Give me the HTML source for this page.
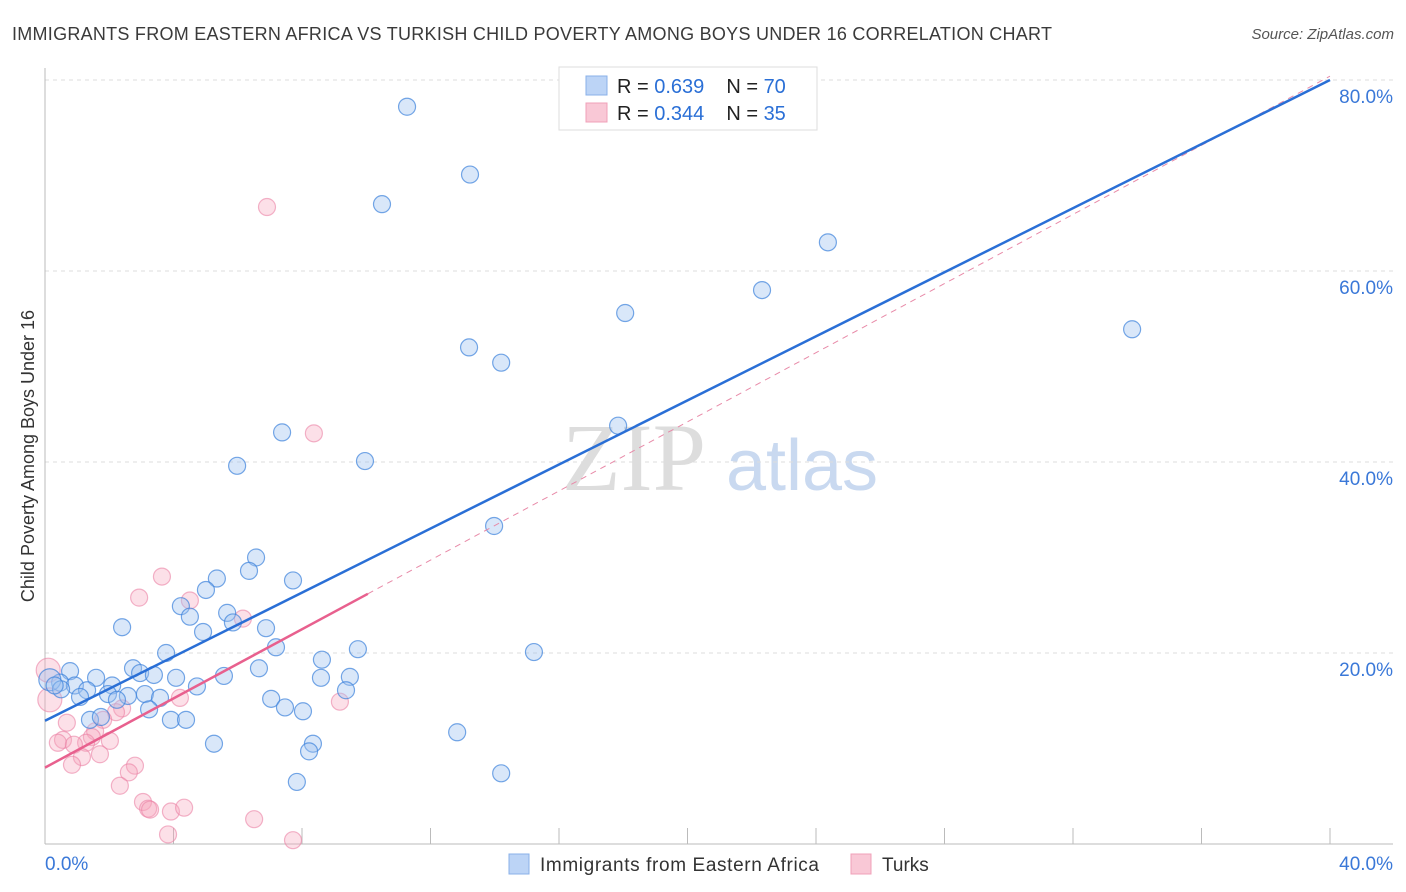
<!DOCTYPE html>
<html><head><meta charset="utf-8"><style>
body{margin:0;background:#fff;font-family:"Liberation Sans",sans-serif;}
svg{display:block}
</style></head><body>
<svg id="c" width="1406" height="892">
<text x="12" y="40" font-size="18" fill="#3a3a3a" textLength="1040">IMMIGRANTS FROM EASTERN AFRICA VS TURKISH CHILD POVERTY AMONG BOYS UNDER 16 CORRELATION CHART</text>
<text x="1394" y="39" font-size="15" fill="#555" font-style="italic" text-anchor="end">Source: ZipAtlas.com</text>
<text transform="translate(34,456) rotate(-90)" font-size="18" fill="#333" text-anchor="middle">Child Poverty Among Boys Under 16</text>
<g><text x="634" y="490" font-size="96" font-family="Liberation Serif,serif" fill="#ddd" text-anchor="middle">ZIP</text><text x="802" y="490" font-size="72" fill="#c9d9f0" text-anchor="middle">atlas</text></g>
<g id="grid"></g><g id="marks"></g>
<g>
<rect x="559" y="67" width="258" height="63" fill="#fff" stroke="#ddd"/>
<rect x="586" y="76" width="21" height="19" fill="#bcd4f6" stroke="#8ab0e8"/>
<rect x="586" y="103" width="21" height="19" fill="#f9c8d6" stroke="#f0a0b8"/>
<text x="617" y="93" font-size="20" fill="#222">R = <tspan fill="#2a6fd6">0.639</tspan><tspan dx="22">N = </tspan><tspan fill="#2a6fd6">70</tspan></text>
<text x="617" y="120" font-size="20" fill="#222">R = <tspan fill="#2a6fd6">0.344</tspan><tspan dx="22">N = </tspan><tspan fill="#2a6fd6">35</tspan></text>
</g>
<g>
<rect x="509" y="854" width="20" height="20" fill="#bcd4f6" stroke="#8ab0e8"/>
<text x="540" y="871" font-size="19" fill="#333" textLength="279">Immigrants from Eastern Africa</text>
<rect x="851" y="854" width="20" height="20" fill="#f9c8d6" stroke="#f0a0b8"/>
<text x="882" y="871" font-size="19" fill="#333">Turks</text>
</g>
</svg>
<script>
const yTicks=[20,40,60,80];
const xTickVals=[0,4,8,12,16,20,24,28,32,36,40];
const blueX=[11.27,13.23,10.49,24.37,22.32,18.06,33.84,13.2,14.2,17.84,7.38,9.96,5.98,13.98,6.57,6.35,7.72,5.35,5.01,4.23,4.51,5.67,5.85,2.4,4.92,6.88,7.19,3.77,9.74,15.22,8.62,2.74,2.96,6.66,3.39,5.57,4.08,9.49,8.59,0.78,1.59,2.09,4.73,9.37,0.47,0.93,1.31,1.96,1.09,3.11,2.58,3.58,2.24,7.04,7.47,8.03,3.24,1.4,1.74,3.92,4.39,5.26,8.34,8.22,12.83,14.2,7.84,0.15,0.5,0.3];
const blueY=[77.2,70.1,67.0,63.0,58.0,55.6,53.9,52.0,50.4,43.8,43.1,40.1,39.6,33.3,30.0,28.6,27.6,27.8,26.6,24.9,23.8,24.2,23.2,22.7,22.2,22.6,20.6,20.0,20.4,20.1,19.3,18.4,17.9,18.4,17.7,17.6,17.4,17.5,17.4,18.1,17.4,16.6,16.5,16.1,16.9,16.6,16.1,15.7,15.4,15.7,15.5,15.3,15.1,15.2,14.3,13.9,14.1,13.0,13.3,13.0,13.0,10.5,10.5,9.7,11.7,7.4,6.5,17.2,16.2,16.6];
const pinkX=[6.91,8.37,3.64,2.93,4.51,6.16,4.2,9.18,2.4,2.21,1.81,0.68,1.56,1.46,0.56,0.4,2.02,1.28,0.9,1.71,1.15,0.84,2.8,2.61,2.33,3.05,3.21,3.27,3.92,4.33,6.51,3.83,7.72,0.15,0.1];
const pinkY=[66.7,43.0,28.0,25.8,25.5,23.6,15.3,14.9,14.2,13.8,13.0,12.7,11.8,11.2,10.9,10.6,10.8,10.6,10.4,9.4,9.1,8.3,8.2,7.5,6.1,4.4,3.7,3.6,3.4,3.8,2.6,1.0,0.4,15.1,18.2];
const blueFit=[12.9,80.0];
const pinkFit=[8.0,26.2,80.4];
const xs=v=>45+v/40*1285, ys=v=>844-v/20*191;
const NS='http://www.w3.org/2000/svg';
const g=document.getElementById('grid'), m=document.getElementById('marks');
function mk(p,tag,a){const e=document.createElementNS(NS,tag);for(const k in a)e.setAttribute(k,a[k]);p.appendChild(e);return e;}
let e;
yTicks.forEach(t=>{
 e=mk(g,'line',{x1:45,x2:1393,y1:ys(t),y2:ys(t),stroke:'#ddd','stroke-dasharray':'4,4'});
 
 
 e=mk(g,'text',{x:1393,y:ys(t)+23,'font-size':19,fill:'#3a78d8','text-anchor':'end'});e.textContent=t.toFixed(1)+'%';
 
 
});
e=mk(g,'line',{x1:45,x2:45,y1:68,y2:844,stroke:'#bbb'});


e=mk(g,'line',{x1:45,x2:1393,y1:844,y2:844,stroke:'#bbb'});


xTickVals.forEach(t=>{
 e=mk(g,'line',{x1:xs(t),x2:xs(t),y1:828,y2:844,stroke:'#bbb'});
 
 
});
e=mk(g,'text',{x:45,y:870,'font-size':19,fill:'#3a78d8'});e.textContent='0.0%';


e=mk(g,'text',{x:1393,y:870,'font-size':19,fill:'#3a78d8','text-anchor':'end'});e.textContent='40.0%';


pinkX.forEach((x,i)=>{
 const big=i>=33;
 e=mk(m,'circle',{cx:xs(x),cy:ys(pinkY[i]),r:big?12:8.5,fill:'rgba(245,165,190,0.35)',stroke:'rgba(235,130,165,0.6)','stroke-width':1.2});
 
 
});
blueX.forEach((x,i)=>{
 const big=i===67;
 e=mk(m,'circle',{cx:xs(x),cy:ys(blueY[i]),r:big?11:8.5,fill:'rgba(160,195,240,0.4)',stroke:'rgba(60,130,220,0.7)','stroke-width':1.2});
 
 
});
e=mk(m,'line',{x1:xs(10.05),y1:ys(pinkFit[1]),x2:xs(40),y2:ys(pinkFit[2]),stroke:'#e88aa8','stroke-width':1,'stroke-dasharray':'6,5'});


e=mk(m,'line',{x1:xs(0),y1:ys(blueFit[0]),x2:xs(40),y2:ys(blueFit[1]),stroke:'#2a6fd6','stroke-width':2.5});


e=mk(m,'line',{x1:xs(0),y1:ys(pinkFit[0]),x2:xs(10.05),y2:ys(pinkFit[1]),stroke:'#e8608e','stroke-width':2.5});


</script>
</body></html>
